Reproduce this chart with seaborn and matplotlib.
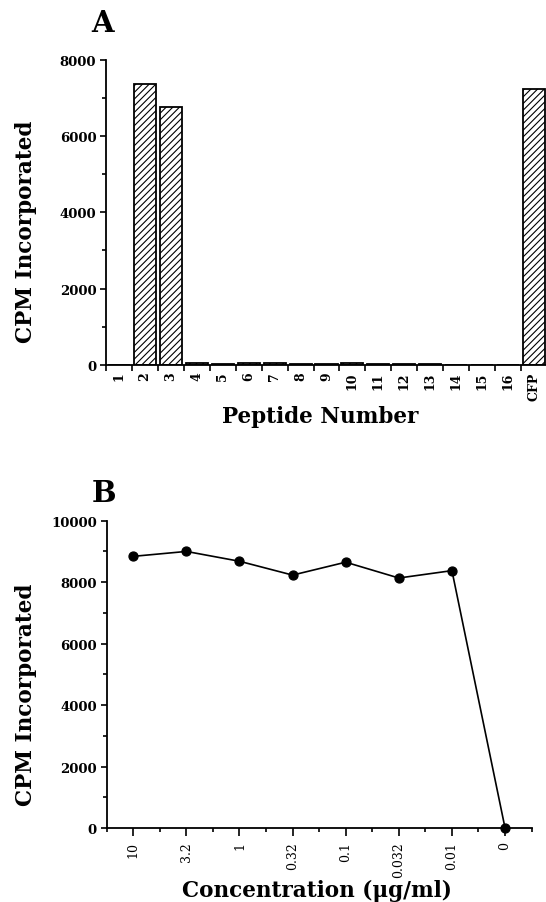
import matplotlib
matplotlib.use("Agg")
import matplotlib.pyplot as plt
from matplotlib.ticker import MultipleLocator, FixedLocator
import seaborn as sns
import numpy as np

# ---- data ----
peptides = ["1", "2", "3", "4", "5", "6", "7", "8", "9", "10", "11", "12",
            "13", "14", "15", "16", "CFP"]
cpm_peptide = [0, 7370, 6760, 50, 15, 40, 45, 15, 15, 55, 20, 20, 15, 0, 0, 0, 7240]

concentrations = ["10", "3.2", "1", "0.32", "0.1", "0.032", "0.01", "0"]
cpm_conc = [8840, 9000, 8680, 8230, 8650, 8135, 8375, 0]

sns.set_style("ticks")
plt.rcParams["font.family"] = ["DejaVu Serif"]
plt.rcParams["hatch.linewidth"] = 0.8
plt.rcParams["hatch.color"] = "black"
for k in ("text.color", "axes.labelcolor", "xtick.color", "ytick.color",
          "axes.edgecolor"):
    plt.rcParams[k] = "black"

W, H = 546, 903
fig = plt.figure(figsize=(W / 100, H / 100), dpi=100)

axA = fig.add_axes([106 / W, 1 - 365.7 / H, 441 / W, 304.7 / H])
axB = fig.add_axes([106.7 / W, 1 - 829 / H, 424.9 / W, 307.3 / H])

# ---- panel A ----
sns.barplot(x=peptides, y=cpm_peptide, ax=axA, color="white", saturation=1,
            edgecolor="black", linewidth=1.3, hatch="/////", width=0.85)
axA.set_xlim(-0.5, len(peptides) - 0.5)
axA.set_ylim(0, 8000)
axA.yaxis.set_major_locator(MultipleLocator(2000))
axA.yaxis.set_minor_locator(MultipleLocator(1000))
axA.xaxis.set_minor_locator(FixedLocator(np.arange(-0.5, len(peptides), 1.0)))
axA.tick_params(axis="x", which="major", length=0, pad=5, labelrotation=90,
                labelsize=9)
axA.tick_params(axis="x", which="minor", length=4, width=1.2)
for t in axA.get_xticklabels():
    t.set_fontweight("bold")

# ---- panel B ----
sns.pointplot(x=concentrations, y=cpm_conc, ax=axB, color="black",
              markers="o", markersize=6.5, linewidth=1.2, errorbar=None)
axB.set_xlim(-0.5, len(concentrations) - 0.5)
axB.set_ylim(0, 10000)
axB.yaxis.set_major_locator(MultipleLocator(2000))
axB.yaxis.set_minor_locator(MultipleLocator(1000))
axB.xaxis.set_minor_locator(FixedLocator(np.arange(-0.5, len(concentrations), 1.0)))
axB.tick_params(axis="x", which="major", length=5.5, width=1.2, pad=4,
                labelrotation=90, labelsize=9)
axB.tick_params(axis="x", which="minor", length=3, width=1.2)
for ln in axB.lines:
    ln.set_clip_on(False)
for c in axB.collections:
    c.set_clip_on(False)

for ax in (axA, axB):
    sns.despine(ax=ax)
    for s in ("left", "bottom"):
        ax.spines[s].set_linewidth(1.3)
    ax.tick_params(axis="y", which="major", length=4, width=1.2, pad=3,
                   labelsize=9.5)
    ax.tick_params(axis="y", which="minor", length=3, width=1.2)
    for t in ax.get_yticklabels():
        t.set_fontweight("bold")
    ax.set_xlabel("")
    ax.set_ylabel("CPM Incorporated", fontsize=15.5, fontweight="bold")

axA.yaxis.set_label_coords((37 - 106) / 441, 0.44)
axB.yaxis.set_label_coords((37.4 - 106.7) / 424.9, 0.438)

fig.text(320 / W, 1 - 423.3 / H, "Peptide Number", ha="center", va="baseline",
         fontsize=15.5, fontweight="bold")
fig.text(316.5 / W, 1 - 896.7 / H, "Concentration (\u03bcg/ml)", ha="center",
         va="baseline", fontsize=15.5, fontweight="bold")

fig.text(91 / W, 1 - 32 / H, "A", ha="left", va="baseline", fontsize=21,
         fontweight="bold")
fig.text(91.7 / W, 1 - 502.5 / H, "B", ha="left", va="baseline", fontsize=21,
         fontweight="bold")

fig.savefig("out.png", dpi=100)
